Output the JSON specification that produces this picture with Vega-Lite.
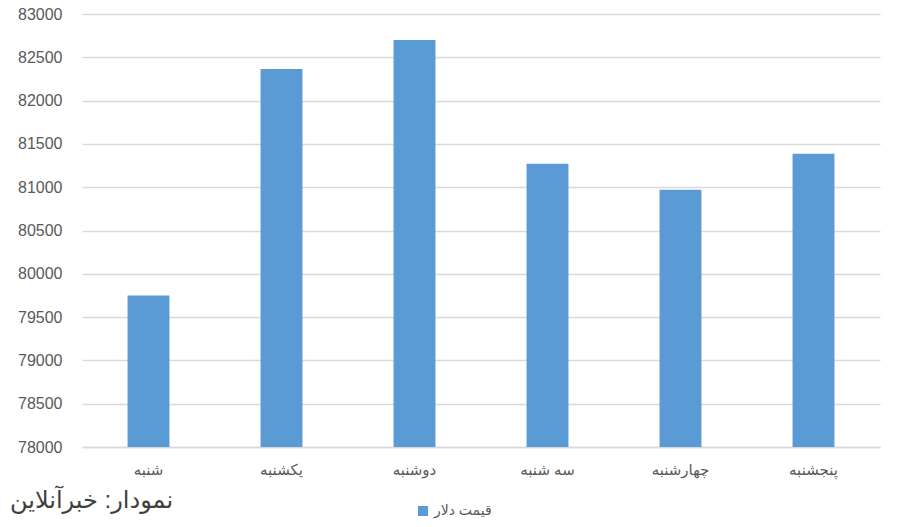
{
  "$schema": "https://vega.github.io/schema/vega-lite/v6.json",
  "width": 798,
  "height": 433,
  "autosize": {"type": "none"},
  "padding": {"left": 82, "top": 14, "right": 22, "bottom": 80},
  "background": "white",
  "title": {
    "text": "نمودار: خبرآنلاین",
    "orient": "bottom",
    "anchor": "start",
    "frame": "group",
    "dx": -72,
    "offset": -29,
    "fontSize": 24,
    "fontWeight": "normal",
    "font": "Liberation Sans, DejaVu Sans, sans-serif",
    "color": "#404040"
  },
  "data": {
    "values": [
      {"day": "شنبه", "series": "قیمت دلار", "price": 79750},
      {"day": "یکشنبه", "series": "قیمت دلار", "price": 82365},
      {"day": "دوشنبه", "series": "قیمت دلار", "price": 82700},
      {"day": "سه شنبه", "series": "قیمت دلار", "price": 81270},
      {"day": "چهارشنبه", "series": "قیمت دلار", "price": 80970},
      {"day": "پنجشنبه", "series": "قیمت دلار", "price": 81385}
    ]
  },
  "mark": {"type": "bar", "clip": true},
  "encoding": {
    "x": {
      "field": "day",
      "type": "nominal",
      "sort": null,
      "scale": {"paddingInner": 0.685, "paddingOuter": 0.3425},
      "axis": {
        "title": null,
        "labelAngle": 0,
        "labelFontSize": 15,
        "labelColor": "#595959",
        "labelFont": "Liberation Sans, DejaVu Sans, sans-serif",
        "labelPadding": 15,
        "ticks": false,
        "domainColor": "#d9d9d9",
        "domainWidth": 1.5
      }
    },
    "y": {
      "field": "price",
      "type": "quantitative",
      "scale": {"domain": [78000, 83000], "zero": false, "nice": false},
      "axis": {
        "title": null,
        "values": [78000, 78500, 79000, 79500, 80000, 80500, 81000, 81500, 82000, 82500, 83000],
        "format": "d",
        "labelFontSize": 16,
        "labelColor": "#595959",
        "labelFont": "Liberation Sans, DejaVu Sans, sans-serif",
        "labelPadding": 20,
        "ticks": false,
        "domain": false,
        "gridColor": "#d9d9d9",
        "gridWidth": 1.5
      }
    },
    "color": {
      "field": "series",
      "type": "nominal",
      "scale": {"range": ["#5b9bd5"]},
      "legend": {
        "title": null,
        "orient": "none",
        "legendX": 334,
        "legendY": 490,
        "symbolType": "square",
        "symbolSize": 100,
        "labelFontSize": 14,
        "labelColor": "#595959",
        "labelFont": "Liberation Sans, DejaVu Sans, sans-serif"
      }
    }
  },
  "config": {"view": {"stroke": null}}
}
